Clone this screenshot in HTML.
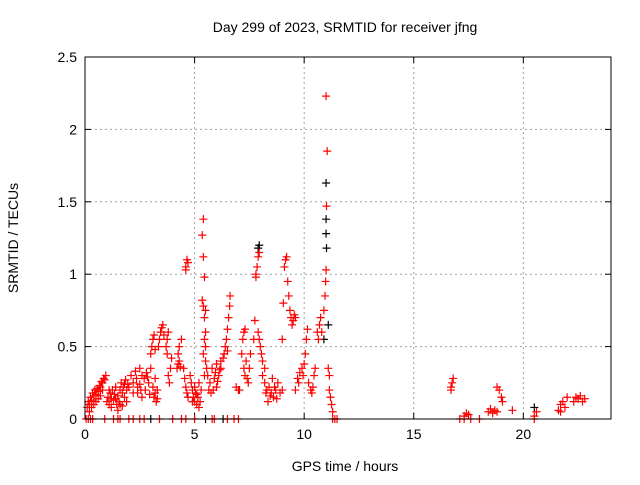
<!DOCTYPE html>
<html><head><meta charset="utf-8"><style>
body{margin:0;background:#fff;}
svg text{font-family:"Liberation Sans",sans-serif;font-size:14px;fill:#000;}
</style></head><body>
<svg id="chart" width="640" height="480" viewBox="0 0 640 480" xmlns="http://www.w3.org/2000/svg">
<rect width="640" height="480" fill="#fff"/>
<text x="345" y="32" text-anchor="middle">Day 299 of 2023, SRMTID for receiver jfng</text>
<text x="345" y="471" text-anchor="middle">GPS time / hours</text>
<text transform="translate(18,238) rotate(-90)" text-anchor="middle">SRMTID / TECUs</text>
<g id="grid"></g>
<g id="axes"></g>
<g id="black"></g>
<g id="red"></g>
<rect x="85" y="57" width="526" height="362" fill="none" stroke="#000" stroke-width="1"/>
</svg>
<script>
const xTicks=[0,5,10,15,20];
const yTicks=[0,0.5,1,1.5,2,2.5];
const yTickLabels=["0","0.5","1","1.5","2","2.5"];
const redPoints=[[0.1,.08],[0.15,.12],[0.2,.1],[0.25,.15],[0.3,.13],[0.35,.18],[0.4,.16],[0.45,.2],[0.5,.17],[0.55,.21],[0.6,.19],[0.65,.23],[0.7,.22],[0.75,.26],[0.8,.25],[0.85,.28],[0.9,.27],[0.95,.3],[0.2,.05],[0.3,.08],
[0.4,.1],[0.5,.12],[0.6,.14],[0.7,.16],[0.8,.2],
[1.0,.12],[1.05,.15],[1.1,.1],[1.15,.18],[1.2,.14],[1.25,.2],[1.3,.13],[1.35,.17],[1.4,.22],[1.45,.1],[1.5,.16],[1.55,.12],[1.6,.2],[1.65,.25],[1.7,.18],[1.75,.22],[1.8,.15],[1.85,.27],[1.9,.2],[1.95,.24],[2.0,.22],[1.5,.06],[1.7,.09],
[1.1,.2],[1.2,.08],[1.4,.14],[1.6,.1],[1.8,.24],[1.9,.12],
[2.1,.3],[2.2,.25],[2.3,.33],[2.4,.22],[2.5,.35],[2.55,.2],[2.6,.3],[2.7,.28],[2.8,.32],[2.9,.25],[3.0,.35],[3.1,.22],[3.15,.15],[3.2,.18],[3.25,.12],[3.3,.2],[2.6,.15],[2.4,.18],
[2.2,.18],[2.35,.28],[2.5,.24],[2.75,.2],[2.85,.29],[2.95,.17],[3.2,.28],[3.3,.14],
[3.0,.45],[3.05,.5],[3.1,.55],[3.15,.58],[3.2,.48],[3.4,.55],[3.45,.6],[3.5,.63],[3.55,.65],[3.6,.58],[3.35,.5],
[3.75,.55],[3.8,.6],[3.7,.5],[3.75,.45],[3.8,.3],[3.85,.25],[3.9,.35],[3.95,.42],
[4.2,.35],[4.25,.38],[4.3,.4],[4.35,.36],[4.3,.5],[4.4,.55],[4.25,.45],
[4.5,.35],[4.55,.28],[4.6,.22],[4.65,.18],[4.7,.15],[4.6,1.05],[4.65,1.1],[4.7,1.08],[4.6,1.03],
[4.8,.3],[4.85,.25],[4.9,.2],[4.95,.15],[5.0,.12],[5.05,.18],[5.1,.1],[5.15,.15],[5.2,.25],[5.25,.12],[5.3,.2],
[4.9,.12],[5.0,.22],[5.1,.17],[5.2,.08],
[5.4,1.38],[5.35,1.27],[5.4,1.12],[5.45,.98],[5.35,.82],[5.4,.78],[5.45,.7],[5.5,.6],[5.45,.55],[5.5,.5],[5.4,.45],[5.5,.4],[5.45,.3],[5.55,.35],[5.5,.75],
[5.6,.3],[5.7,.25],[5.8,.35],[5.9,.28],[6.0,.38],[6.1,.3],[6.2,.4],[5.75,.18],[5.85,.2],[6.0,.22],[6.2,.35],
[5.65,.2],[5.95,.32],[6.05,.26],[6.15,.34],
[6.3,.42],[6.35,.45],[6.4,.5],[6.45,.55],[6.5,.62],[6.55,.7],[6.6,.78],[6.62,.85],[6.5,.47],
[6.9,.22],[7.0,.2],[7.05,.2],
[7.2,.55],[7.25,.6],[7.3,.62],[7.15,.45],[7.25,.35],[7.3,.3],[7.4,.28],[7.45,.25],[7.5,.35],[7.35,.4],[7.55,.45],
[7.7,.55],[7.75,.68],[7.8,1.0],[7.85,1.05],[7.9,1.12],[7.95,1.15],[7.8,.98],[7.9,.6],[8.0,.5],[8.05,.45],[8.1,.4],[7.95,.55],
[8.1,.3],[8.2,.25],[8.3,.2],[8.4,.22],[8.5,.18],[8.6,.15],[8.7,.2],[8.8,.25],[8.35,.12],[8.55,.28],[8.2,.35],[8.9,.18],[9.0,.2],
[8.25,.18],[8.45,.16],[8.65,.22],[8.75,.14],
[9.0,.55],[9.05,.8],[9.1,1.05],[9.15,1.1],[9.2,1.12],[9.25,.95],[9.3,.85],[9.35,.75],[9.4,.7],[9.45,.65],[9.5,.68],[9.55,.72],[9.6,.7],
[9.6,.2],[9.7,.28],[9.8,.32],[9.9,.35],[10.0,.38],[10.05,.45],[10.1,.55],[10.15,.62],[9.75,.25],[9.95,.3],
[10.2,.25],[10.3,.2],[10.35,.18],[10.4,.22],[10.45,.3],[10.5,.35],
[10.6,.6],[10.7,.65],[10.8,.6],[10.75,.7],[10.65,.55],[10.9,.75],[10.95,.85],[10.98,.95],[11.0,1.03],[11.02,1.47],[11.05,1.85],[11.0,2.23],
[11.1,.35],[11.15,.2],[11.2,.15],[11.25,.1],[11.3,.05],[11.15,.3],
[16.7,.2],[16.75,.25],[16.8,.28],[16.7,.22],[17.3,.02],[17.4,.04],[17.5,.03],
[18.4,.05],[18.5,.07],[18.6,.04],[18.7,.06],[18.8,.05],[18.8,.22],[18.9,.2],[19.0,.15],[19.05,.12],[19.5,.06],
[20.5,.02],[20.6,.05],[21.6,.06],[21.7,.1],[21.8,.12],[21.9,.08],[22.0,.15],[21.7,.05],
[22.3,.12],[22.4,.15],[22.5,.14],[22.6,.16],[22.7,.12],[22.8,.14],
[0.05,0],[0.15,0],[0.25,0],[0.35,0],[0.9,0],[1.3,0],[1.5,0],[1.6,0],[2.0,0],[2.2,0],[2.5,0],[2.7,0],[3.4,0],[4.0,0],[4.4,0],[4.6,0],[5.0,0],[5.8,0],[5.9,0],[6.5,0],[6.8,0],[7.0,0],[11.3,0],[11.4,0],[11.5,0],[17.1,0],[17.3,0],[17.6,0],[18.0,0],[20.5,0]];
const blackPoints=[[7.95,1.2],[7.9,1.18],[11.0,1.63],[11.0,1.38],[11.0,1.28],[11.02,1.18],[11.1,.65],[3.0,0],[5.5,0],[6.3,0],[20.5,.08],[10.9,.55]];
const X0=85,X1=611,Y0=419,Y1=57;
const xs=v=>X0+v/24*(X1-X0);
const ys=v=>Y0-v/2.5*(Y0-Y1);
const NS="http://www.w3.org/2000/svg";
function mk(tag,attrs,parent){const e=document.createElementNS(NS,tag);for(const k in attrs)e.setAttribute(k,attrs[k]);parent.appendChild(e);return e;}
const grid=document.getElementById('grid'),axes=document.getElementById('axes');
xTicks.forEach((t,i)=>{const x=xs(t);
 if(t>0){const l=mk('line',{x1:x,x2:x,y1:Y0,y2:Y1,stroke:'#a0a0a0','stroke-dasharray':'2,3'},grid);
 
 }
 mk('line',{x1:x,x2:x,y1:Y0,y2:Y0-6,stroke:'#000'},axes);
 mk('line',{x1:x,x2:x,y1:Y1,y2:Y1+6,stroke:'#000'},axes);
 const tx=mk('text',{x:x,y:Y0+20,'text-anchor':'middle'},axes);tx.textContent=String(t);
 
 });
yTicks.forEach((t,i)=>{const y=ys(t);
 if(t>0&&t<2.5){const l=mk('line',{x1:X0,x2:X1,y1:y,y2:y,stroke:'#a0a0a0','stroke-dasharray':'2,3'},grid);
 
 }
 mk('line',{x1:X0,x2:X0+6,y1:y,y2:y,stroke:'#000'},axes);
 mk('line',{x1:X1,x2:X1-6,y1:y,y2:y,stroke:'#000'},axes);
 const tx=mk('text',{x:X0-8,y:y+5,'text-anchor':'end'},axes);tx.textContent=yTickLabels[i];
 
 });
function plot(pts,g,color){pts.forEach(p=>{const x=xs(p[0]),y=ys(p[1]);
 const e=mk('path',{d:`M${x-4},${y}H${x+4}M${x},${y-4}V${y+4}`,stroke:color,'stroke-width':1.2,fill:'none'},g);
 
 });}
plot(blackPoints,document.getElementById('black'),'#000');
plot(redPoints,document.getElementById('red'),'#f00');
</script>
</body></html>
